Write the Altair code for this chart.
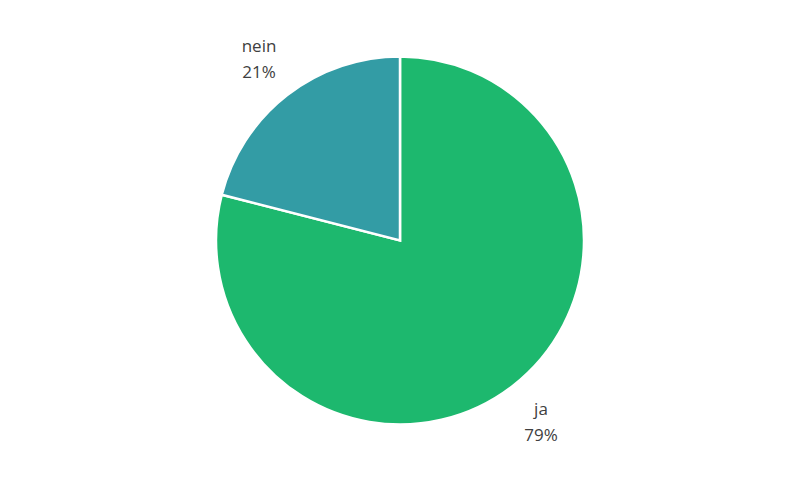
import altair as alt
import pandas as pd

categories = ["ja", "nein"]
values = [79, 21]
colors = ["#1DB86E", "#339CA5"]

df = pd.DataFrame({"cat": categories, "val": values, "order": [0, 1]})

base = alt.Chart(df).transform_calculate(
    label="datum.cat + '\\n' + datum.val + '%'"
).encode(
    theta=alt.Theta("val:Q", stack=True),
    order=alt.Order("order:Q"),
)

pie = base.mark_arc(outerRadius=184, stroke="white", strokeWidth=2.5).encode(
    color=alt.Color("cat:N", scale=alt.Scale(domain=categories, range=colors), legend=None)
)

text = base.mark_text(
    radius=230, fontSize=17, font="Open Sans", color="#404040",
    lineBreak="\n", lineHeight=26, align="center", baseline="middle", dy=-12
).encode(text="label:N")

chart = alt.layer(pie, text).properties(
    width=784, height=465,
    autosize=alt.AutoSizeParams(type="fit", contains="padding"),
    padding=0,
).configure_view(stroke=None)

chart.save("out.html", embed_options={"renderer": "svg", "actions": False})
